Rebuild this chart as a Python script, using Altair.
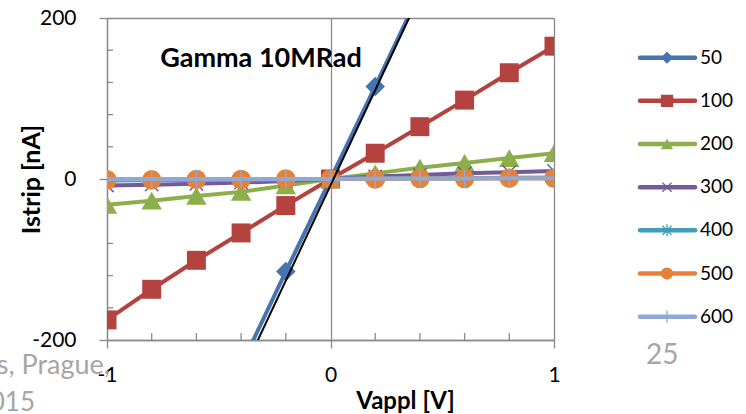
import altair as alt
import pandas as pd

# ---- data ----
v_appl = [-1.0, -0.8, -0.6, -0.4, -0.2, 0.0, 0.2, 0.4, 0.6, 0.8, 1.0]
series_names = ["50", "100", "200", "300", "400", "500", "600"]
i_50 = [-575, -460, -345, -232, -115, 0, 115, 232, 345, 460, 575]
i_100 = [-175, -137, -101, -67, -33, 0, 32, 65, 98, 132, 165]
i_200 = [-32, -27, -21, -16, -8, 0, 7, 14, 20, 26, 32]
i_300 = [-8, -7, -6, -4.5, -2.5, 0, 3, 5, 7, 8.5, 10]
i_400 = [-2, -1.5, -1, -1, -0.5, 0, 0.5, 1, 1, 1.5, 2]
i_500 = [-1, -1, -0.5, -0.5, 0, 0, 0, 0.5, 0.5, 1, 1]
i_600 = [0, 0, 0, 0, 0, 0, 0.5, 0.5, 0.5, 1, 1]
fit_v = [-0.345, 0.365]
fit_i = [-212, 208]

series_colors = ["#4674AE", "#B4433F", "#8DAF4B", "#725A9C", "#3F9FBA", "#E4823A", "#8FA9D4"]
series_shapes = [
    "diamond", "square", "triangle-up",
    "M-0.75,-0.75L0.75,0.75M-0.75,0.75L0.75,-0.75",
    "M-0.75,-0.75L0.75,0.75M-0.75,0.75L0.75,-0.75M0,-1L0,1",
    "circle",
    "M-1,0L1,0M0,-1L0,1",
]
filled_series = ["50", "100", "200", "500"]
marker_sizes = {"50": 380, "100": 360, "200": 420, "500": 380}

major_x = [-1, 0, 1]
major_y = [-200, 0, 200]
minor_x = [-0.8, -0.6, -0.4, -0.2, 0.2, 0.4, 0.6, 0.8]
minor_y = [-160, -120, -80, -40, 40, 80, 120, 160]

rows = []
for name, vals in zip(series_names, [i_50, i_100, i_200, i_300, i_400, i_500, i_600]):
    for v, i in zip(v_appl, vals):
        rows.append({"series": name, "V": v, "I": i})
df = pd.DataFrame(rows)

FONT = "Lato"
GRID = "#8a8a8a"

x_axis = alt.Axis(values=major_x, labelExpr="toString(datum.value)", grid=True,
                  gridColor=GRID, gridWidth=1.3, domainColor=GRID, domainWidth=1.3,
                  tickColor=GRID, tickWidth=1.3, tickSize=8, labelFontSize=21,
                  labelFont=FONT, labelColor="#000", labelPadding=16, labelFlush=False,
                  title="Vappl [V]", titleFont=FONT, titleFontSize=24, titleFontWeight="bold",
                  titleColor="#000", titleX=298, titleY=68, titleAlign="center",
                  titleBaseline="alphabetic")
y_axis = alt.Axis(values=major_y, labelExpr="toString(datum.value)", grid=True,
                  gridColor=GRID, gridWidth=1.3, domainColor=GRID, domainWidth=1.3,
                  tickColor=GRID, tickWidth=1.3, tickSize=8, labelFontSize=21,
                  labelFont=FONT, labelColor="#000", labelPadding=23, labelFlush=False,
                  title="Istrip [nA]", titleFont=FONT, titleFontSize=25, titleFontWeight="bold",
                  titleColor="#000", titleX=-68, titleY=161, titleAngle=270,
                  titleAlign="center", titleBaseline="alphabetic")

xs = alt.Scale(domain=[-1, 1], nice=False, zero=False)
ys = alt.Scale(domain=[-200, 200], nice=False, zero=False)
color_scale = alt.Scale(domain=series_names, range=series_colors)
shape_scale = alt.Scale(domain=series_names, range=series_shapes)

base = alt.Chart(df).encode(
    x=alt.X("V:Q", scale=xs, axis=x_axis),
    y=alt.Y("I:Q", scale=ys, axis=y_axis),
    color=alt.Color("series:N", scale=color_scale, legend=None),
)

layers = []
for name in series_names:
    sub = base.transform_filter(alt.datum.series == name)
    layers.append(sub.mark_line(strokeWidth=4, clip=True))
    if name in filled_series:
        layers.append(sub.mark_point(filled=True, opacity=1, size=marker_sizes[name],
                                     clip=True).encode(
            shape=alt.Shape("series:N", scale=shape_scale, legend=None)))
    else:
        layers.append(sub.mark_point(filled=False, opacity=1, size=320, strokeWidth=1.5,
                                     clip=True).encode(
            shape=alt.Shape("series:N", scale=shape_scale, legend=None)))

fit_df = pd.DataFrame({"V": fit_v, "I": fit_i})
fit = alt.Chart(fit_df).mark_line(color="#000000", strokeWidth=2, clip=True).encode(
    x=alt.X("V:Q", scale=xs, axis=x_axis), y=alt.Y("I:Q", scale=ys, axis=y_axis))

minor_y_ticks = alt.Chart(pd.DataFrame({"I": minor_y})).mark_rule(
    color=GRID, strokeWidth=1.3).encode(
    y=alt.Y("I:Q", scale=ys, axis=y_axis), x=alt.value(0), x2=alt.value(6))
minor_x_ticks = alt.Chart(pd.DataFrame({"V": minor_x})).mark_rule(
    color=GRID, strokeWidth=1.3).encode(
    x=alt.X("V:Q", scale=xs, axis=x_axis), y=alt.value(315), y2=alt.value(322))

title_txt = alt.Chart(pd.DataFrame({"t": ["Gamma 10MRad"]})).mark_text(
    font=FONT, fontSize=27, fontWeight="bold", color="#000", align="center",
    baseline="middle").encode(text="t:N", x=alt.value(154), y=alt.value(41))

gray1 = alt.Chart(pd.DataFrame({"t": ["s, Prague,"]})).mark_text(
    font=FONT, fontSize=27, color="#a6a6a6", align="right", baseline="alphabetic").encode(
    text="t:N", x=alt.value(3), y=alt.value(356))
gray2 = alt.Chart(pd.DataFrame({"t": ["2015"]})).mark_text(
    font=FONT, fontSize=26, color="#a6a6a6", align="right", baseline="alphabetic").encode(
    text="t:N", x=alt.value(-72), y=alt.value(393))
gray3 = alt.Chart(pd.DataFrame({"t": ["25"]})).mark_text(
    font=FONT, fontSize=28, color="#a6a6a6", align="left", baseline="alphabetic").encode(
    text="t:N", x=alt.value(539), y=alt.value(346))

main = alt.layer(minor_y_ticks, minor_x_ticks, *layers, fit, title_txt)

# ---- manual legend ----
leg_df = pd.DataFrame({"series": series_names})
leg_y = alt.Y("series:N", scale=alt.Scale(type="point", domain=series_names,
                                          range=[39.7, 298.7], padding=0), axis=None)
leg_color = alt.Color("series:N", scale=color_scale, legend=None)
leg_line = alt.Chart(leg_df).mark_rule(strokeWidth=4.5, strokeCap="round").encode(
    y=leg_y, x=alt.value(533), x2=alt.value(588), color=leg_color)
leg_pts_f = alt.Chart(leg_df).transform_filter(
    alt.FieldOneOfPredicate(field="series", oneOf=filled_series)).mark_point(
    filled=True, opacity=1, size=150).encode(
    y=leg_y, x=alt.value(560), color=leg_color,
    shape=alt.Shape("series:N", scale=shape_scale, legend=None))
leg_pts_s = alt.Chart(leg_df).transform_filter(
    ~alt.FieldOneOfPredicate(field="series", oneOf=filled_series)).mark_point(
    filled=False, opacity=1, size=150, strokeWidth=1.3).encode(
    y=leg_y, x=alt.value(560), color=leg_color,
    shape=alt.Shape("series:N", scale=shape_scale, legend=None))
leg_txt = alt.Chart(leg_df).mark_text(font=FONT, fontSize=19, color="#000", align="left",
                                      baseline="middle").encode(
    y=leg_y, x=alt.value(593), text="series:N")
legend = alt.layer(gray1, gray2, gray3, leg_line, leg_pts_f, leg_pts_s, leg_txt)

chart = alt.layer(legend, main).resolve_scale(y="independent").properties(
    width=447, height=322,
    autosize=alt.AutoSizeParams(type="none"),
    padding={"left": 107, "top": 18, "right": 192, "bottom": 74},
    background="white",
).configure_view(stroke=None)

chart.save("out.html", embed_options={"renderer": "svg", "actions": False})
